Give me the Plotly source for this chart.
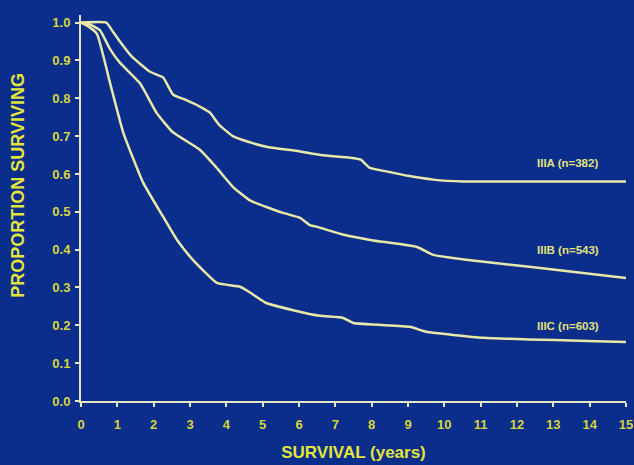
import plotly.graph_objects as go

# Kaplan-Meier style survival curves
iiia_x = [0, 0.7, 0.85, 1.07, 1.4, 1.9, 2.26, 2.53, 2.9, 3.27, 3.55, 3.8, 4.18, 4.6, 5.1, 6.0, 6.6, 7.4, 7.7, 7.95, 8.5, 9.0, 9.7, 10.5, 11, 15]
iiia_y = [1.0, 1.0, 0.98, 0.95, 0.91, 0.87, 0.855, 0.81, 0.795, 0.778, 0.762, 0.73, 0.70, 0.685, 0.672, 0.66, 0.65, 0.643, 0.638, 0.616, 0.605, 0.595, 0.585, 0.58, 0.58, 0.58]

iiib_x = [0, 0.25, 0.52, 0.8, 1.07, 1.62, 2.09, 2.53, 3.27, 3.7, 4.18, 4.65, 5.56, 6.03, 6.3, 6.5, 7.2, 8.0, 9.25, 9.7, 10.6, 12.4, 15]
iiib_y = [1.0, 0.995, 0.98, 0.93, 0.894, 0.84, 0.76, 0.71, 0.664, 0.62, 0.566, 0.53, 0.497, 0.484, 0.465, 0.46, 0.44, 0.425, 0.407, 0.386, 0.373, 0.354, 0.325]

iiic_x = [0, 0.2, 0.44, 0.8, 1.16, 1.71, 2.26, 2.64, 3.08, 3.74, 4.38, 4.6, 5.1, 5.84, 6.58, 7.2, 7.5, 9.05, 9.5, 11.07, 15]
iiic_y = [1.0, 0.99, 0.97, 0.84, 0.71, 0.577, 0.487, 0.426, 0.373, 0.312, 0.302, 0.29, 0.259, 0.24, 0.225, 0.22, 0.206, 0.196, 0.183, 0.167, 0.156]

series_labels = ["IIIA (n=382)", "IIIB (n=543)", "IIIC (n=603)"]
label_x = [13.4, 13.4, 13.4]
label_y = [0.63, 0.40, 0.198]

x_ticks = list(range(0, 16))
y_ticks = [round(i * 0.1, 1) for i in range(0, 11)]

BG = "#0b2d8c"
CURVE = "#e8e8a8"
TICKTXT = "#d6d63c"
TITLE = "#e4e43a"
AXIS = "#e6e6c8"
FONT = "Liberation Sans, Arial, sans-serif"

fig = go.Figure()
for xs, ys, name in [(iiia_x, iiia_y, series_labels[0]),
                     (iiib_x, iiib_y, series_labels[1]),
                     (iiic_x, iiic_y, series_labels[2])]:
    fig.add_trace(go.Scatter(x=xs, y=ys, mode="lines", name=name,
                             line=dict(color=CURVE, width=2.5, shape="spline", smoothing=0.4),
                             showlegend=False, cliponaxis=False))

for txt, lx, ly in zip(series_labels, label_x, label_y):
    fig.add_annotation(x=lx, y=ly, xref="x", yref="y", text=txt, showarrow=False,
                       font=dict(family=FONT, size=11.5, color="#e2e27a", weight="bold"))

W, H = 634, 465
x0, x15 = 81, 626
y0, y1 = 401, 23
ppu = (y0 - y1) / 1.0
ytop = 1.02
plot_h = ytop * ppu
plot_w = x15 - x0
fig.update_layout(
    width=W, height=H,
    margin=dict(l=x0, r=W - x15, t=H - (H - y0) - plot_h, b=H - y0, pad=0, autoexpand=False),
    paper_bgcolor=BG, plot_bgcolor=BG,
    font=dict(family=FONT, color=TICKTXT),
)
# y-axis title placed as a rotated annotation (its centre sits above the plot centre in the reference)
fig.add_annotation(x=(18 - x0) / plot_w, y=(y0 - 186) / plot_h, xref="paper", yref="paper",
                   text="PROPORTION SURVIVING",
                   textangle=-90, showarrow=False, xanchor="center", yanchor="middle",
                   font=dict(family=FONT, size=18, color=TITLE, weight="bold"))

fig.update_xaxes(range=[0, 15], tickvals=x_ticks, ticktext=[str(v) for v in x_ticks],
                 showgrid=False, zeroline=False, showline=True, linecolor=AXIS, linewidth=2,
                 ticks="outside", ticklen=4, tickwidth=2, tickcolor=AXIS, automargin=False,
                 tickfont=dict(family=FONT, size=13, color=TICKTXT, weight="bold"),
                 ticklabelstandoff=6,
                 title=dict(text="SURVIVAL (years)", standoff=16,
                            font=dict(family=FONT, size=17, color=TITLE, weight="bold")))
fig.update_yaxes(range=[0, ytop], tickvals=y_ticks, ticktext=[f"{v:.1f}" for v in y_ticks],
                 showgrid=False, zeroline=False, showline=True, linecolor=AXIS, linewidth=2,
                 ticks="outside", ticklen=4, tickwidth=2, tickcolor=AXIS, automargin=False,
                 tickfont=dict(family=FONT, size=13, color=TICKTXT, weight="bold"),
                 ticklabelstandoff=2)

fig.write_html("out.html")
